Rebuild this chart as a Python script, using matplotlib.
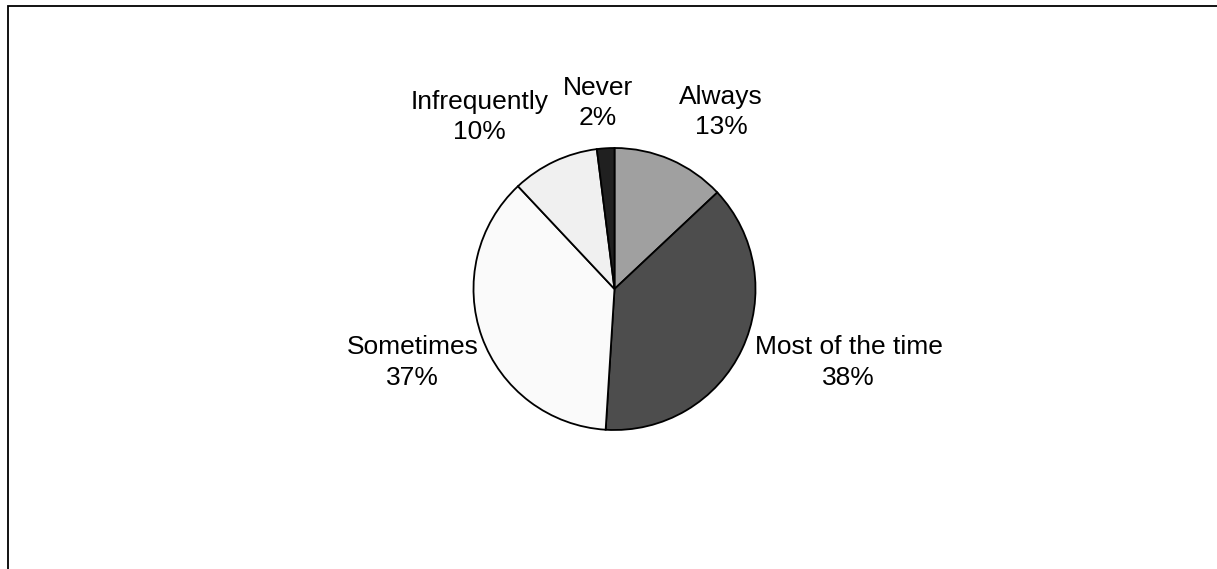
import matplotlib.pyplot as plt
from matplotlib.patches import Rectangle

# survey answers, clockwise from 12 o'clock
categories = ["Always", "Most of the time", "Sometimes", "Infrequently", "Never"]
percentages = [13, 38, 37, 10, 2]
shades = ["#a0a0a0", "#4d4d4d", "#fafafa", "#f0f0f0", "#202020"]

# label centres in units of the pie radius
label_pos = [(0.755, 1.255), (1.66, -0.52), (-1.43, -0.52), (-0.96, 1.22), (-0.12, 1.32)]

W, H = 1217, 569
fig = plt.figure(figsize=(W / 100, H / 100), dpi=100)
fig.patch.set_facecolor("white")

# chart-area frame, only the top and left edges fall inside the image
fig.patches.append(Rectangle((7.5 / W, -0.1), 2.0, 1.1 - 5.5 / H,
                             transform=fig.transFigure, fill=False,
                             edgecolor="black", linewidth=1.3))

cx, cy, r = 614.5, 289, 141
ax = fig.add_axes([(cx - r) / W, (H - cy - r) / H, 2 * r / W, 2 * r / H])
ax.pie(percentages, colors=shades, startangle=90, counterclock=False,
       radius=1, wedgeprops=dict(edgecolor="black", linewidth=1.3))
ax.set_xlim(-1, 1)
ax.set_ylim(-1, 1)
ax.set_aspect("equal")
ax.axis("off")

for name, pct, (x, y) in zip(categories, percentages, label_pos):
    ax.text(x, y, f"{name}\n{pct}%", ha="center", va="center",
            fontsize=19, family="Liberation Sans", linespacing=1.35,
            clip_on=False)

fig.savefig("out.png", dpi=100)
